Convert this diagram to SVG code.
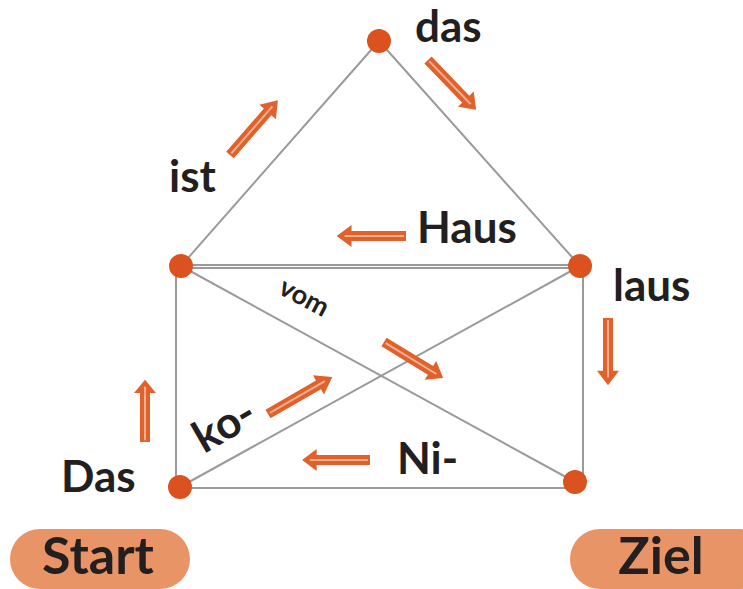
<svg xmlns="http://www.w3.org/2000/svg" width="743" height="589" viewBox="0 0 743 589">
<style>
.e{stroke:#9a9a9a;stroke-width:2;fill:none}
.n{fill:#dc521e}
.t{font-family:Lato,"Open Sans",sans-serif;font-weight:700;fill:#231f20}
.pill{fill:#e99466}
.ash{fill:#e0612c}
.ast{stroke:#f2b08f;stroke-width:2;fill:none}
</style>
<defs>
<g id="a70"><polygon class="ash" points="0,-5 55,-5 55,-11 70,0 55,11 55,5 0,5"/><line class="ast" x1="2" y1="0" x2="62" y2="0"/></g>
</defs>
<g id="connectors">
<line class="e" x1="379" y1="41" x2="181" y2="266"/>
<line class="e" x1="379" y1="41" x2="580" y2="266"/>
<line class="e" x1="181" y1="265" x2="580" y2="265"/>
<line class="e" x1="181" y1="268" x2="580" y2="268"/>
<line class="e" x1="176" y1="266" x2="176" y2="487"/>
<line class="e" x1="583" y1="266" x2="583" y2="482"/>
<line class="e" x1="180" y1="488" x2="575" y2="488"/>
<line class="e" x1="181" y1="266" x2="575" y2="482"/>
<line class="e" x1="180" y1="487" x2="580" y2="266"/>
</g>
<g id="arrows">
<use href="#a70" transform="translate(230,155) rotate(-48.9) scale(1.04,1)"/>
<use href="#a70" transform="translate(428,60) rotate(46) scale(0.99,1)"/>
<use href="#a70" transform="translate(406,236) rotate(180) scale(0.99,1)"/>
<use href="#a70" transform="translate(384,342) rotate(31.4) scale(0.99,1)"/>
<use href="#a70" transform="translate(268,414) rotate(-30) scale(1.06,1)"/>
<use href="#a70" transform="translate(370,460) rotate(180) scale(0.97,1)"/>
<use href="#a70" transform="translate(145,442) rotate(-90) scale(0.89,1)"/>
<use href="#a70" transform="translate(608,318) rotate(90) scale(0.96,1)"/>
</g>
<g id="node-das"><circle class="n" cx="379" cy="41" r="12"/><text class="t" x="415" y="42" font-size="44">das</text></g>
<g id="node-ist"><circle class="n" cx="181" cy="266" r="12"/><text class="t" x="169" y="192" font-size="44">ist</text></g>
<g id="node-haus"><text class="t" x="417" y="243" font-size="44">Haus</text></g>
<g id="node-laus"><circle class="n" cx="580" cy="266" r="12"/><text class="t" x="613" y="301" font-size="44">laus</text></g>
<g id="node-vom"><text class="t" x="277" y="293" font-size="27" transform="rotate(28 277 293)">vom</text></g>
<g id="node-ko"><text class="t" x="204" y="454" font-size="44" transform="rotate(-30 204 454)">ko-</text></g>
<g id="node-ni"><circle class="n" cx="575" cy="482" r="12"/><text class="t" x="397" y="474" font-size="44">Ni-</text></g>
<g id="node-Das"><circle class="n" cx="180" cy="487" r="12"/><text class="t" x="61" y="492" font-size="44">Das</text></g>
<g id="start"><rect class="pill" x="10" y="529" width="180" height="60" rx="30"/><text class="t" x="98" y="574" font-size="52" text-anchor="middle">Start</text></g>
<g id="ziel"><rect class="pill" x="570" y="529" width="200" height="60" rx="30"/><text class="t" x="661" y="574" font-size="52" text-anchor="middle">Ziel</text></g>
</svg>
